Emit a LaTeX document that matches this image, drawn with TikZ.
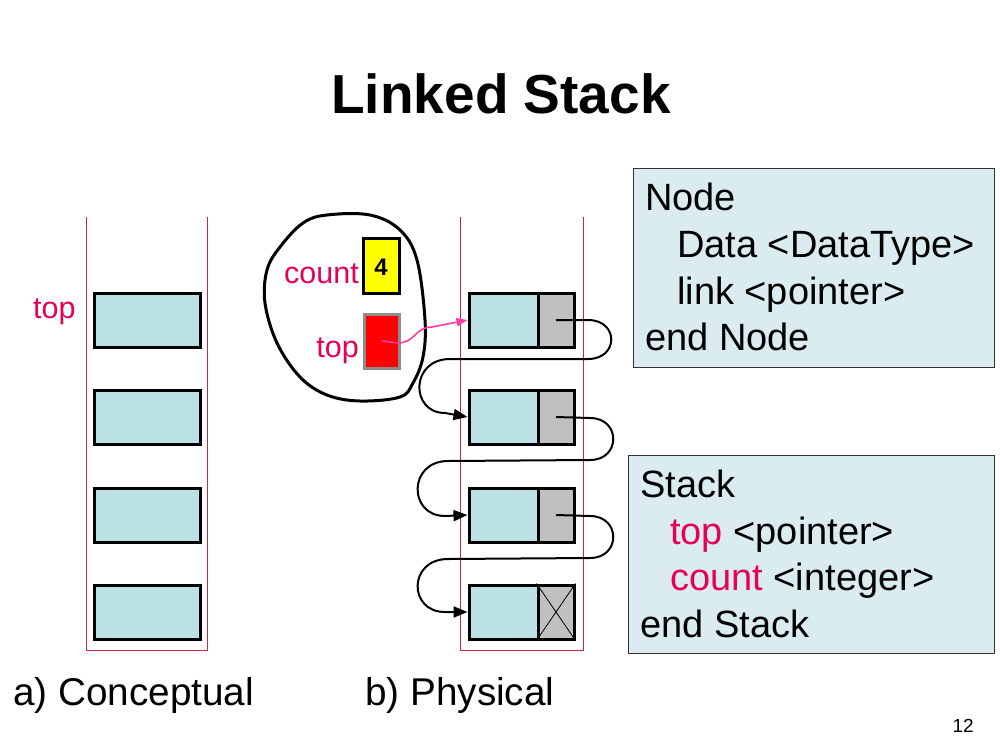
\documentclass[tikz,border=0pt]{standalone}
\usepackage{fontspec}
\setmainfont{Liberation Sans}
\usetikzlibrary{arrows.meta}
\definecolor{cellfill}{RGB}{187,224,228}
\definecolor{ptrfill}{RGB}{192,192,192}
\definecolor{boxfill}{RGB}{219,236,240}
\definecolor{keyred}{RGB}{230,0,90}
\definecolor{linkpink}{RGB}{255,60,160}
\definecolor{colred}{RGB}{200,40,70}
\definecolor{cntyellow}{RGB}{255,255,0}
\begin{document}
\begin{tikzpicture}[x=1pt,y=-1pt,
  cell/.style={draw=black, line width=3pt, fill=cellfill, inner sep=0pt, minimum height=54pt},
  ptr/.style={draw=black, line width=3pt, fill=ptrfill, inner sep=0pt, minimum height=54pt, minimum width=36pt},
  body/.style={font=\fontsize{38}{46}\selectfont, anchor=base west, inner sep=0pt},
  lab/.style={font=\fontsize{30.5}{36}\selectfont, text=keyred, inner sep=0pt},
  link/.style={line width=2pt, -{Triangle[length=14pt,width=11pt]}},
  infobox/.style={draw=black!80, line width=0.8pt, fill=boxfill},
  column/.style={draw=colred, line width=1pt}
]
\useasboundingbox (0,0) rectangle (1000,750);
\fill[white] (0,0) rectangle (1000,750);

% title
\node[font=\bfseries\fontsize{55}{60}\selectfont, anchor=base, inner sep=0pt] (title) at (501,113) {Linked Stack};

% conceptual column
\draw[column] (86,217) -- (86,650) -- (207,650) -- (207,217);
\foreach \i/\y in {1/320,2/417,3/515,4/612}{
  \node[cell, minimum width=106pt] (c\i) at (147,\y) {};
}
\node[lab, anchor=base west] (ctop) at (33,318) {top};

% physical column
\draw[column] (460,217) -- (460,650) -- (583,650) -- (583,217);
\foreach \i/\y in {1/320,2/417,3/515,4/612}{
  \node[cell, minimum width=69pt] (d\i) at (503.5,\y) {};
  \node[ptr] (p\i) at (556,\y) {};
}
\draw[line width=0.8pt] (p4.north west) -- (p4.south east);
\draw[line width=0.8pt] (p4.north east) -- (p4.south west);

% links
\draw[link] (p1.center) -- (588,320) .. controls (619,320) and (619,359) .. (588,359)
  -- (450,359) .. controls (410,359) and (410,413) .. (445,413) -- (d2.west);
\draw[link] (p2.center) -- (590,418) .. controls (621,418) and (621,460) .. (590,460)
  -- (448,461) .. controls (408,461) and (408,516) .. (445,516) -- (d3.west);
\draw[link] (p3.center) -- (590,516) .. controls (621,516) and (621,558) .. (590,558)
  -- (448,559) .. controls (408,559) and (408,612) .. (445,612) -- (d4.west);

% stack header blob
\draw[line width=3pt] plot[smooth cycle, tension=0.6] coordinates {
  (327,215) (370,215) (400,230) (417,260) (425,320) (423,357) (413,383)
  (400,397) (360,401) (327,395) (300,377) (277,343) (265,303) (267,270)
  (280,247) (303,223)};
\node[draw=black, line width=3pt, fill=cntyellow, minimum width=36pt, minimum height=55pt, inner sep=0pt] (cnt) at (381,265.5) {};
\node[font=\bfseries\fontsize{24}{28}\selectfont, inner sep=0pt] (four) at (381,267) {4};
\node[draw=black!45, line width=3pt, fill=red, minimum width=35pt, minimum height=54pt, inner sep=0pt] (tp) at (381.5,341) {};
\node[lab, anchor=base east] (lcount) at (359,283) {count};
\node[lab, anchor=base east] (ltop) at (359,357) {top};
\draw[linkpink, line width=1.6pt, -{Triangle[length=11pt,width=8pt]}] (tp.center) -- (398,343)
  .. controls (415,343) and (415,327) .. (432,327) -- (d1.west);

% info boxes
\node[infobox, minimum width=361pt, minimum height=199pt, inner sep=0pt] (nodebox) at (813.5,267.5) {};
\node[body] (n1) at (645,210) {Node};
\node[body] (n2) at (677,257) {Data <DataType>};
\node[body] (n3) at (677,304) {link <pointer>};
\node[body] (n4) at (645,350) {end Node};

\node[infobox, minimum width=366pt, minimum height=198pt, inner sep=0pt] (stackbox) at (811,554) {};
\node[body] (s1) at (640,497) {Stack};
\node[body] (s2) at (670,544) {\textcolor{keyred}{top} <pointer>};
\node[body] (s3) at (670,590) {\textcolor{keyred}{count} <integer>};
\node[body] (s4) at (640,637) {end Stack};

% captions
\node[font=\fontsize{38.7}{46}\selectfont, anchor=base west, inner sep=0pt] (capa) at (13,705) {a) Conceptual};
\node[font=\fontsize{38.7}{46}\selectfont, anchor=base west, inner sep=0pt] (capb) at (365,705) {b) Physical};
\node[font=\fontsize{19}{22}\selectfont, anchor=base east, inner sep=0pt] (pg) at (974,732) {12};
\end{tikzpicture}
\end{document}
